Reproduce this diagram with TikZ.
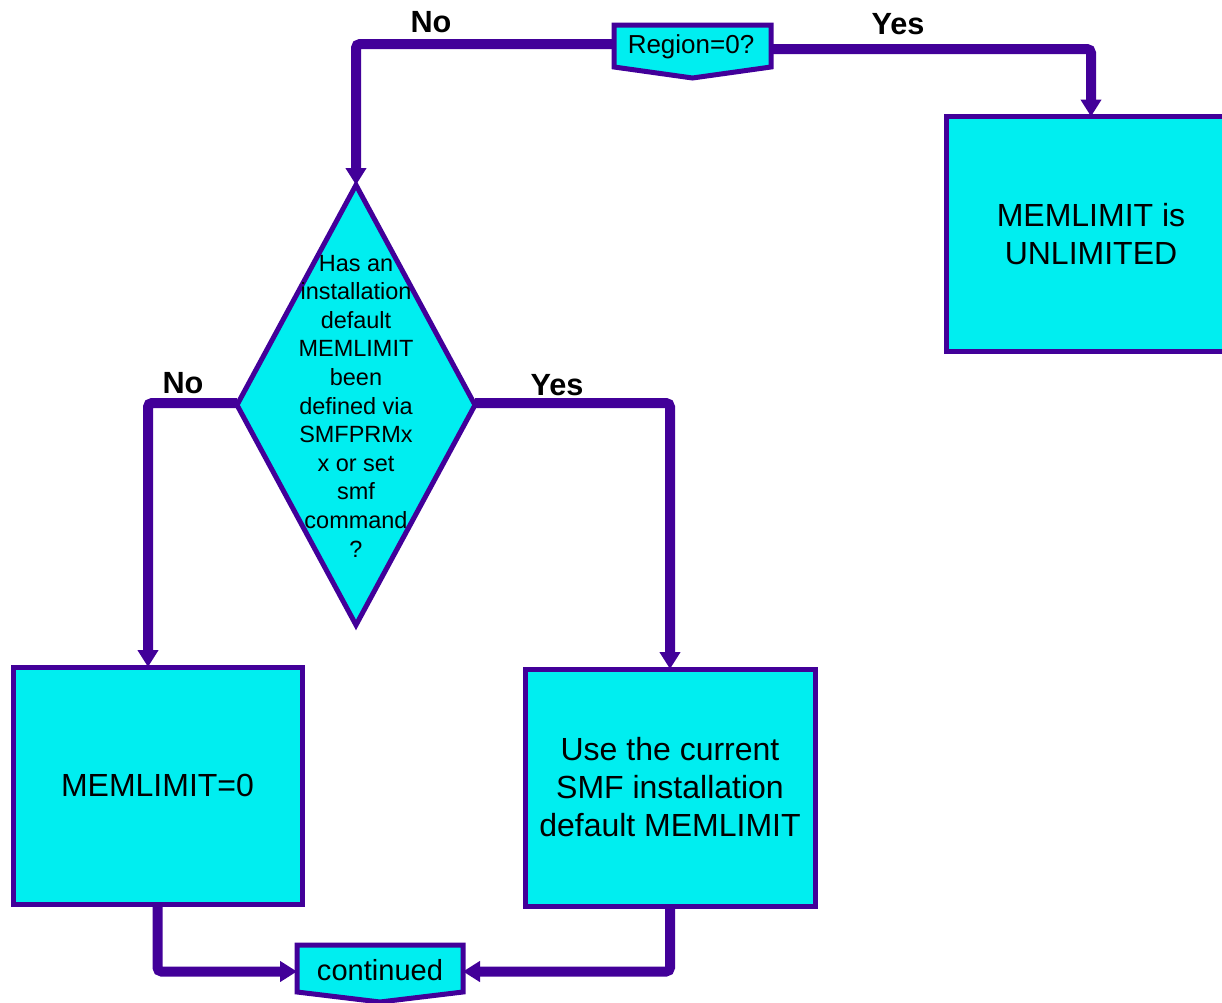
\documentclass[tikz,border=0pt]{standalone}
\usepackage{fontspec}
\setmainfont{Liberation Sans}
\usetikzlibrary{shapes.geometric,arrows.meta,calc}
\definecolor{fillc}{RGB}{0,238,240}
\definecolor{linec}{RGB}{66,0,153}
\tikzset{
  boxst/.style={draw=linec, fill=fillc, line width=3.75pt, rectangle, inner sep=0pt, outer sep=0pt, align=center},
  offst/.style={fill=none, draw=none, rectangle, inner sep=0pt, outer sep=0pt},
  offpath/.style={draw=linec, fill=fillc, line width=3.75pt, line join=miter},
  conn/.style={draw=linec, line width=7.5pt, rounded corners=3pt},
  arr/.style={-{Triangle[length=12.75pt,width=15pt]}},
  lab/.style={font=\bfseries\fontsize{23}{27}\selectfont, inner sep=0pt},
}
\begin{document}
\begin{tikzpicture}[x=0.75pt,y=-0.75pt]
\useasboundingbox (0,0) rectangle (1222,1003);

% Region=0? off-page shape
\node[offst, minimum width=117.75pt, minimum height=31.5pt] (reg) at (692.5,46) {};
\draw[offpath] (reg.north west) -- (reg.north east) -- (reg.south east)
  -- ($(reg.south)+(0,11)$) -- (reg.south west) -- cycle;
\node[inner sep=0pt, font=\fontsize{19.5}{23}\selectfont] (regt) at (691,47) {Region=0?};

% continued off-page shape
\node[offst, minimum width=124.5pt, minimum height=35.25pt] (cont) at (380,968.5) {};
\draw[offpath] (cont.north west) -- (cont.north east) -- (cont.south east)
  -- ($(cont.south)+(0,10)$) -- (cont.south west) -- cycle;
\node[inner sep=0pt, font=\fontsize{21.8}{26}\selectfont] (contt) at (380,970) {continued};

% boxes
\node[boxst, minimum width=217.5pt, minimum height=176.25pt, font=\fontsize{24}{28.5}\selectfont] (unl) at (1091,234) {MEMLIMIT is\\UNLIMITED};
\node[boxst, minimum width=216.75pt, minimum height=177.75pt, font=\fontsize{24}{28.5}\selectfont] (m0) at (157.5,785.5) {MEMLIMIT=0};
\node[boxst, minimum width=217.5pt, minimum height=177.75pt, font=\fontsize{24}{28.5}\selectfont] (use) at (670,787.5) {Use the current\\SMF installation\\default MEMLIMIT};

% diamond
\node[diamond, draw=linec, fill=fillc, line width=3.75pt, inner sep=0pt, outer sep=0pt,
  minimum width=178.5pt, minimum height=330pt] (dia) at (356,405) {};
\node[inner sep=0pt, align=center, font=\fontsize{17.6}{21.45}\selectfont] (diat) at (356,406)
  {Has an\\installation\\default\\MEMLIMIT\\been\\defined via\\SMFPRMx\\x or set\\smf\\command\\?};

% connectors
\draw[conn, arr] ([yshift=1.5pt]reg.west) -| (dia.north);
\draw[conn, arr] ([yshift=-2.25pt]reg.east) -| (unl.north);
\draw[conn, arr] ([yshift=1.5pt]dia.west) -| ([xshift=-7.125pt]m0.north);
\draw[conn, arr] ([yshift=1.5pt]dia.east) -| (use.north);
\draw[conn, arr] (m0.south) |- ([yshift=-2.25pt]cont.west);
\draw[conn, arr] (use.south) |- ([yshift=-2.25pt]cont.east);

% labels
\node[lab] (l1) at (431,22) {No};
\node[lab] (l2) at (898,24) {Yes};
\node[lab] (l3) at (183,383) {No};
\node[lab] (l4) at (557,385) {Yes};
\end{tikzpicture}
\end{document}
